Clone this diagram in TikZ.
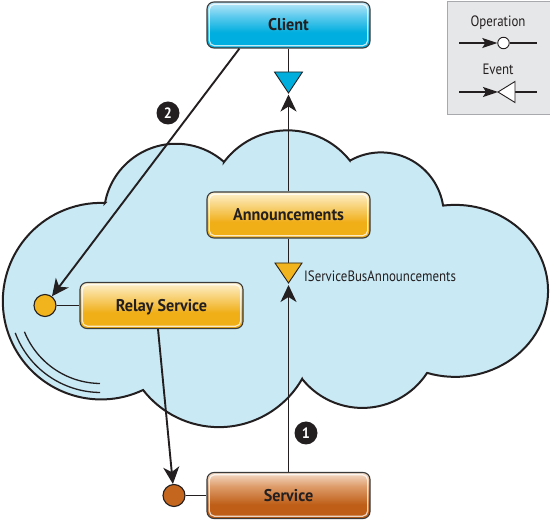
\documentclass[tikz,border=0pt]{standalone}
\usepackage{fontspec}
\newfontfamily\lblfont[FakeStretch=0.86]{PT Sans}
\newfontfamily\boxfont[FakeStretch=0.95]{PT Sans}
\usetikzlibrary{arrows.meta,calc}
\definecolor{ink}{HTML}{231F20}
\definecolor{boxline}{HTML}{3A3A3A}
\definecolor{cloudfill}{HTML}{C9E9F5}
\definecolor{ytop}{HTML}{FEF1D0}
\definecolor{ymid}{HTML}{F8D37A}
\definecolor{ybot}{HTML}{F0AE17}
\definecolor{btop}{HTML}{BDE7F8}
\definecolor{bmid}{HTML}{5FCBEE}
\definecolor{bbot}{HTML}{00AEDF}
\definecolor{rtop}{HTML}{F5DDCB}
\definecolor{rmid}{HTML}{DE9C6A}
\definecolor{rbot}{HTML}{BE5E17}
\definecolor{portyel}{HTML}{F2B41C}
\definecolor{portbrn}{HTML}{C4661E}
\definecolor{triblue}{HTML}{00AEDD}
\definecolor{legfill}{HTML}{E6E7E8}
\definecolor{legline}{HTML}{A7A9AC}
\pgfdeclareverticalshading{yelsh}{100bp}{color(0bp)=(ybot); color(25bp)=(ybot); color(42bp)=(ybot); color(60bp)=(ymid); color(75bp)=(ytop); color(100bp)=(ytop)}
\pgfdeclareverticalshading{bluesh}{100bp}{color(0bp)=(bbot); color(25bp)=(bbot); color(42bp)=(bbot); color(60bp)=(bmid); color(75bp)=(btop); color(100bp)=(btop)}
\pgfdeclareverticalshading{brnsh}{100bp}{color(0bp)=(rbot); color(25bp)=(rbot); color(40bp)=(rbot); color(60bp)=(rmid); color(75bp)=(rtop); color(100bp)=(rtop)}
\tikzset{
  diagbox/.style={draw=boxline, line width=1.1pt, rounded corners=7pt,
    minimum width=163pt, minimum height=46pt, inner sep=0pt,
    text height=11.9pt, text depth=0pt, text=ink,
    font=\boxfont\bfseries\fontsize{17}{19}\selectfont, shade,
    path picture={\draw[white, opacity=0.75, line width=1.2pt, rounded corners=5.5pt]
      ([shift={(2.2pt,-2.2pt)}]path picture bounding box.north west) rectangle
      ([shift={(-2.2pt,2.2pt)}]path picture bounding box.south east);}},
  conn/.style={draw=ink, line width=1.9pt},
  arr/.style={conn, -{Stealth[length=17pt,width=16pt,inset=5pt]}},
  legarr/.style={draw=ink, line width=1.5pt, -{Stealth[length=15pt,width=10pt,inset=3pt]}},
  legconn/.style={draw=ink, line width=1.5pt},
  port/.style={circle, draw=ink, line width=1.1pt, minimum size=22pt, inner sep=0pt},
  marker/.style={circle, fill=ink, text=white, minimum size=23pt, inner sep=0pt,
    text height=10.5pt, text depth=0pt, font=\boxfont\bfseries\fontsize{15}{15}\selectfont},
  lbl/.style={font=\lblfont\fontsize{15}{17}\selectfont, text=ink, inner sep=0pt},
  tri/.style={draw=ink, line width=0.9pt},
}
\begin{document}
\begin{tikzpicture}[x=1pt,y=1pt]
\useasboundingbox (0,0) rectangle (550,-521);
% cloud
\draw[fill=cloudfill, draw=ink, line width=2pt, line join=miter]
  (105,-203) arc[start angle=169.6, end angle=48.5, radius=72.3]
  -- (224,-162) arc[start angle=143, end angle=38.2, radius=79.5]
  -- (350,-160.6) arc[start angle=119.6, end angle=8.8, radius=62.8]
  -- (443.1,-205.6) arc[start angle=97.4, end angle=-107.5, x radius=93, y radius=86]
  -- (427.1,-372.9) arc[start angle=-33.1, end angle=-141.4, radius=77.2]
  -- (302.1,-378.9) arc[start angle=-29.8, end angle=-142.2, radius=95.9]
  -- (143.1,-390) arc[start angle=-64.7, end angle=-272.3, radius=98.28]
  -- cycle;
\coordinate (lc) at (101,-301);
\draw[ink, line width=1.3pt] ($(lc)+(200.4:91.5)$) arc[start angle=200.4, end angle=269.4, radius=91.5];
\draw[ink, line width=1.3pt] ($(lc)+(201.9:82.5)$) arc[start angle=201.9, end angle=269.3, radius=82.5];
% legend
\node[draw=legline, fill=legfill, line width=1.2pt, minimum width=104pt, minimum height=113pt,
  anchor=north west, inner sep=0pt] (legend) at (447,-0.8) {};
\node[lbl, anchor=base] (optxt) at (498,-26.5) {Operation};
\node[lbl, anchor=base] (evtxt) at (498,-75) {Event};
\coordinate (opl) at (459,-43);
\coordinate (opr) at (537,-43);
\node[circle, draw=ink, fill=white, line width=0.9pt, minimum size=11.5pt, inner sep=0pt] (opc) at (503.5,-43) {};
\draw[legarr] (opl) -- (opc);
\draw[legconn] (opc) -- (opr);
\coordinate (evl) at (459,-92);
\coordinate (evt) at (498,-92);
\coordinate (evb) at (515,-92);
\coordinate (evr) at (537,-92);
\draw[legarr] (evl) -- (evt);
\draw[legconn] (evb) -- (evr);
\draw[tri, fill=white] (evt) -- ($(evb)+(0,10.5)$) -- ($(evb)+(0,-10.5)$) -- cycle;
% boxes
\node[diagbox, shading=bluesh] (client) at (288.5,-25) {Client};
\node[diagbox, shading=yelsh] (ann) at (288.5,-215) {Announcements};
\node[diagbox, shading=yelsh] (relay) at (161.5,-305.5) {Relay Service};
\node[diagbox, shading=brnsh] (service) at (288.5,-495.5) {Service};
% ports
\node[port, fill=portyel] (rc) at (45,-305.5) {};
\node[port, fill=portbrn] (sc) at (174,-495.5) {};
% triangle coordinates
\coordinate (bt) at (288.5,-72);
\coordinate (btip) at (288.5,-94.5);
\coordinate (yt) at (288.5,-263);
\coordinate (ytip) at (288.5,-285);
\coordinate (cstart) at ($(client.south west)+(33,0)$);
\coordinate (rstart) at ($(relay.south)+(-3.5,0)$);
% connectors
\draw[conn] (client.south) -- (bt);
\draw[arr] (ann.north) -- (btip);
\draw[conn] (ann.south) -- (yt);
\draw[arr] (service.north) -- (ytip);
\draw[arr] (cstart) -- (rc);
\draw[arr] (rstart) -- (sc);
\draw[conn, line width=1.5pt] (rc) -- (relay);
\draw[conn, line width=1.5pt] (sc) -- (service);
% triangles
\draw[tri, fill=triblue] ($(bt)+(-14,0)$) -- ($(bt)+(14,0)$) -- ($(bt)+(0,-21)$) -- cycle;
\draw[tri, fill=portyel] ($(yt)+(-13.5,0)$) -- ($(yt)+(13.5,0)$) -- ($(yt)+(0,-20)$) -- cycle;
% label
\node[lbl, anchor=base west] (iface) at (304,-281.5) {IServiceBusAnnouncements};
% markers
\node[marker] (m2) at (168,-113) {2};
\node[marker] (m1) at (306,-433) {1};
\end{tikzpicture}
\end{document}
